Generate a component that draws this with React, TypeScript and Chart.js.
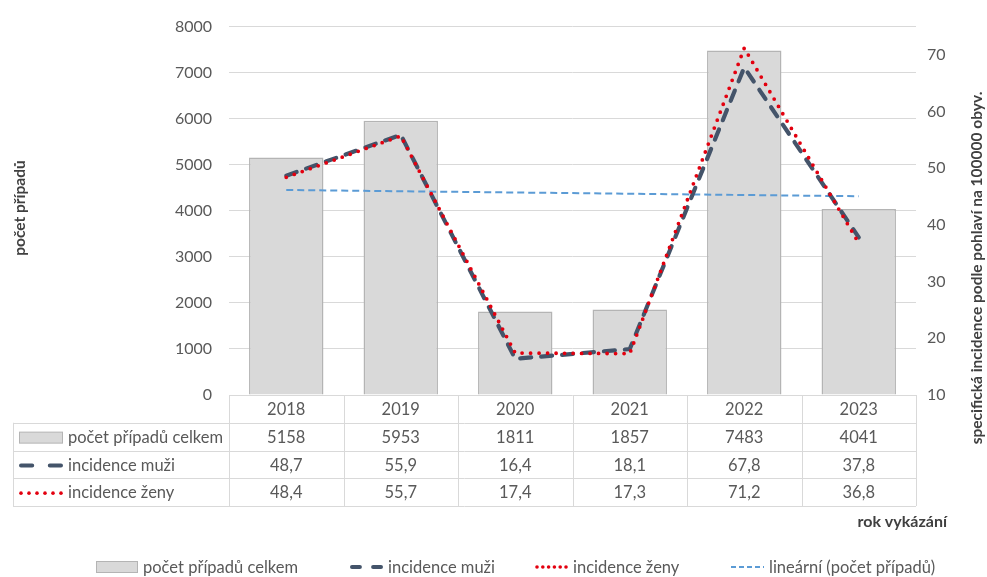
import React, { useEffect, useRef } from 'react';
import { Chart, registerables } from 'chart.js';

Chart.register(...registerables);

const categories = ['2018', '2019', '2020', '2021', '2022', '2023'];
const totalCases = [5158, 5953, 1811, 1857, 7483, 4041];
const incidenceMen = [48.7, 55.9, 16.4, 18.1, 67.8, 37.8];
const incidenceWomen = [48.4, 55.7, 17.4, 17.3, 71.2, 36.8];
const trendCases = [4452, null, null, null, null, 4316];
const leftTicks = { min: 0, max: 8000, step: 1000 };
const rightTicks = { min: 10, max: 75, step: 10 };

const seriesNames = ['počet případů celkem', 'incidence muži', 'incidence ženy', 'lineární (počet případů)'];
const leftTitle = 'počet případů';
const rightTitle = 'specifická incidence podle pohlaví na 100000 obyv.';
const xTitle = 'rok vykázání';

const FONT = 'Lato';
const TEXT = '#595959';
const TITLE = '#404040';
const GRID = '#D9D9D9';
const BAR_FILL = '#D9D9D9';
const BAR_BORDER = '#B4B4B4';
const MEN = '#44546A';
const WOMEN = '#E3000F';
const TREND = '#5B9BD5';

const fmt = (v: number) => v.toFixed(1).replace('.', ',');

function drawSymbol(ctx: CanvasRenderingContext2D, kind: number, x0: number, x1: number, y: number) {
  ctx.save();
  if (kind === 0) {
    ctx.fillStyle = BAR_FILL;
    ctx.strokeStyle = BAR_BORDER;
    ctx.lineWidth = 1;
    ctx.fillRect(x0, y - 5.5, x1 - x0, 11);
    ctx.strokeRect(x0 + 0.5, y - 5.5, x1 - x0 - 1, 11);
  } else if (kind === 1) {
    ctx.strokeStyle = MEN;
    ctx.lineWidth = 4;
    ctx.lineCap = 'round';
    const w = x1 - x0;
    const d = w * 0.3;
    ctx.beginPath();
    ctx.moveTo(x0 + 2, y);
    ctx.lineTo(x0 + d, y);
    ctx.moveTo(x1 - d, y);
    ctx.lineTo(x1 - 2, y);
    ctx.stroke();
  } else if (kind === 2) {
    ctx.fillStyle = WOMEN;
    const n = 6;
    for (let i = 0; i < n; i++) {
      const cx = x0 + 2 + (i * (x1 - x0 - 4)) / (n - 1);
      ctx.beginPath();
      ctx.arc(cx, y, 1.8, 0, Math.PI * 2);
      ctx.fill();
    }
  } else {
    ctx.strokeStyle = TREND;
    ctx.lineWidth = 2;
    ctx.setLineDash([5, 3]);
    ctx.beginPath();
    ctx.moveTo(x0, y);
    ctx.lineTo(x1, y);
    ctx.stroke();
  }
  ctx.restore();
}

const tablePlugin = {
  id: 'dataTableLegend',
  afterDraw(chart: any) {
    const ctx: CanvasRenderingContext2D = chart.ctx;
    const area = chart.chartArea;
    const xs = chart.scales.x;
    const n = categories.length;
    const colW = (area.right - area.left) / n;
    const top = area.bottom;
    const rowH = 27.75;
    const tableLeft = 13;
    const right = area.right;
    ctx.save();

    ctx.strokeStyle = GRID;
    ctx.lineWidth = 1;
    ctx.beginPath();
    for (let i = 0; i <= n; i++) {
      const x = Math.round(area.left + i * colW) + 0.5;
      ctx.moveTo(x, top);
      ctx.lineTo(x, top + rowH * 4);
    }
    for (let r = 1; r <= 4; r++) {
      const y = Math.round(top + r * rowH) + 0.5;
      ctx.moveTo(tableLeft, y);
      ctx.lineTo(right, y);
    }
    ctx.moveTo(tableLeft + 0.5, top + rowH);
    ctx.lineTo(tableLeft + 0.5, top + rowH * 4);
    ctx.stroke();

    ctx.fillStyle = TEXT;
    ctx.font = `16.5px ${FONT}`;
    ctx.textAlign = 'center';
    ctx.textBaseline = 'middle';
    const rows: string[][] = [
      categories,
      totalCases.map((v) => String(v)),
      incidenceMen.map(fmt),
      incidenceWomen.map(fmt),
    ];
    rows.forEach((row, r) => {
      const y = top + rowH * r + rowH / 2 + 1;
      row.forEach((txt, i) => {
        const cx = xs.getPixelForValue(i);
        ctx.fillText(txt, cx, y);
      });
    });

    ctx.textAlign = 'left';
    for (let r = 0; r < 3; r++) {
      const y = top + rowH * (r + 1) + rowH / 2 + 1;
      drawSymbol(ctx, r, 19, 63, y);
      ctx.fillStyle = TEXT;
      ctx.fillText(seriesNames[r], 68, y);
    }

    ctx.fillStyle = TITLE;
    ctx.font = `bold 15.5px ${FONT}`;
    ctx.textAlign = 'center';
    ctx.save();
    ctx.translate(20, 208);
    ctx.rotate(-Math.PI / 2);
    ctx.fillText(leftTitle, 0, 0);
    ctx.restore();
    ctx.save();
    ctx.translate(977, 268);
    ctx.rotate(-Math.PI / 2);
    ctx.fillText(rightTitle, 0, 0);
    ctx.restore();
    ctx.textAlign = 'right';
    ctx.font = `bold 16px ${FONT}`;
    ctx.fillText(xTitle, 947, 522);

    ctx.font = `16.5px ${FONT}`;
    ctx.textAlign = 'left';
    const ly = 567;
    const items = [
      { sx: 96, ex: 138 },
      { sx: 350, ex: 383 },
      { sx: 535, ex: 568 },
      { sx: 731, ex: 764 },
    ];
    items.forEach((it, i) => {
      drawSymbol(ctx, i, it.sx, it.ex, ly);
      ctx.fillStyle = TEXT;
      ctx.fillText(seriesNames[i], it.ex + 5, ly + 1);
    });

    ctx.restore();
  },
};

export default function App() {
  const ref = useRef<HTMLCanvasElement | null>(null);
  useEffect(() => {
    if (!ref.current) return;
    Chart.defaults.font.family = FONT;
    const chart = new Chart(ref.current, {
      type: 'bar',
      data: {
        labels: categories,
        datasets: [
          {
            type: 'line',
            label: seriesNames[2],
            data: incidenceWomen,
            yAxisID: 'y1',
            borderColor: WOMEN,
            borderWidth: 3.8,
            borderDash: [0, 8.5],
            borderCapStyle: 'round',
            pointRadius: 0,
            tension: 0,
            order: 0,
          } as any,
          {
            type: 'line',
            label: seriesNames[1],
            data: incidenceMen,
            yAxisID: 'y1',
            borderColor: MEN,
            borderWidth: 4.2,
            borderDash: [11, 10],
            borderCapStyle: 'round',
            pointRadius: 0,
            tension: 0,
            order: 1,
          } as any,
          {
            type: 'line',
            label: seriesNames[3],
            data: trendCases,
            yAxisID: 'y',
            borderColor: TREND,
            borderWidth: 2,
            borderDash: [7, 4],
            pointRadius: 0,
            spanGaps: true,
            tension: 0,
            order: 2,
          } as any,
          {
            type: 'bar',
            label: seriesNames[0],
            data: totalCases,
            yAxisID: 'y',
            backgroundColor: BAR_FILL,
            borderColor: BAR_BORDER,
            borderWidth: 1.5,
            categoryPercentage: 1,
            barPercentage: 0.65,
            order: 3,
          } as any,
        ],
      },
      options: {
        animation: false,
        responsive: false,
        layout: { padding: { top: 23, bottom: 182, left: 0, right: 0 } },
        plugins: { legend: { display: false }, tooltip: { enabled: false } },
        scales: {
          x: { display: false, offset: true },
          y: {
            position: 'left',
            min: leftTicks.min,
            max: leftTicks.max,
            border: { display: false },
            grid: { color: GRID, drawTicks: false, tickLength: 0, lineWidth: 1 },
            ticks: {
              stepSize: leftTicks.step,
              color: TEXT,
              font: { size: 16, family: FONT },
              padding: 17,
              callback: (v: any) => String(v),
            },
            afterFit: (s: any) => { s.width = 229; },
          },
          y1: {
            position: 'right',
            min: rightTicks.min,
            max: rightTicks.max,
            border: { display: false },
            grid: { display: false, drawTicks: false, tickLength: 0 },
            ticks: {
              stepSize: rightTicks.step,
              color: TEXT,
              font: { size: 16, family: FONT },
              padding: 11,
              callback: (v: any) => String(v),
            },
            afterBuildTicks: (s: any) => {
              s.ticks = s.ticks.filter((t: any) => t.value % rightTicks.step === 0);
            },
            afterFit: (s: any) => { s.width = 71; },
          },
        },
      } as any,
      plugins: [tablePlugin],
    });
    return () => chart.destroy();
  }, []);
  return (
    <div style={{ position: 'absolute', left: 0, top: 0, width: 987, height: 577, background: '#fff' }}>
      <canvas ref={ref} width={987} height={577} style={{ width: 987, height: 577, display: 'block' }} />
    </div>
  );
}
